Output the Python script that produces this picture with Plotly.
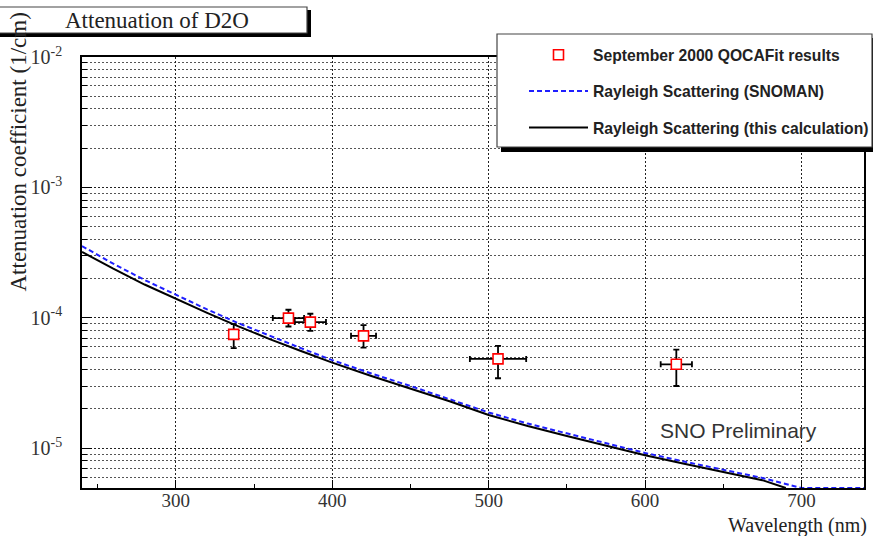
import numpy as np
import plotly.graph_objects as go

# ---- data ----
wl_points = [337, 372, 386, 420, 506, 620]
att_points = [7.47e-5, 9.95e-5, 9.27e-5, 7.27e-5, 4.84e-5, 4.40e-5]
att_err_plus = [1.48e-5, 1.58e-5, 1.47e-5, 1.53e-5, 1.25e-5, 1.30e-5]
att_err_minus = [1.62e-5, 1.37e-5, 1.33e-5, 1.37e-5, 1.40e-5, 1.40e-5]
wl_err = [0, 10, 10, 8, 18, 10]

wl_calc = [240, 260, 280, 300, 320, 340, 360, 380, 400, 425, 450, 475, 500,
           525, 550, 575, 600, 625, 650, 675, 690]
att_calc = [3.20e-4, 2.38e-4, 1.80e-4, 1.40e-4, 1.09e-4, 8.6e-5, 6.87e-5, 5.57e-5,
            4.53e-5, 3.58e-5, 2.88e-5, 2.29e-5, 1.80e-5, 1.48e-5, 1.24e-5, 1.04e-5,
            8.83e-6, 7.59e-6, 6.58e-6, 5.69e-6, 4.9e-6]

wl_snoman = [240, 260, 280, 300, 320, 340, 360, 380, 400, 425, 450, 475, 500,
             525, 550, 575, 600, 625, 650, 675, 700, 720, 740]
att_snoman = [3.55e-4, 2.60e-4, 1.95e-4, 1.50e-4, 1.16e-4, 9.1e-5, 7.25e-5, 5.85e-5,
              4.74e-5, 3.74e-5, 3.0e-5, 2.39e-5, 1.88e-5, 1.545e-5, 1.295e-5, 1.085e-5,
              9.2e-6, 7.9e-6, 6.85e-6, 5.92e-6, 4.6e-6, 4.0e-6, 3.5e-6]

x_range = [240, 740]
y_log_range = [-5.305, -2]
decades = [-5, -4, -3, -2]

ymin = 10 ** y_log_range[0]
snoman_shown = np.maximum(np.array(att_snoman), ymin)
calc_shown = np.maximum(np.array(att_calc), ymin)

W, H = 873, 536
L, R, T, B = 82, 9, 57, 48
pw, ph = W - L - R, H - T - B


def px(x):
    return (x - L) / pw


def py(y):
    return (H - B - y) / ph


fig = go.Figure()

fig.add_trace(go.Scatter(
    x=wl_points, y=att_points, mode="markers",
    name="September 2000 QOCAFit results",
    marker=dict(symbol="square", size=10, color="white",
                line=dict(color="#ff0000", width=1.6)),
    error_y=dict(type="data", array=att_err_plus, arrayminus=att_err_minus,
                 color="black", thickness=1.8, width=3),
    error_x=dict(type="data", array=wl_err, color="black", thickness=1.8, width=3),
    legendgroup="a",
))
fig.add_trace(go.Scatter(
    x=wl_snoman, y=snoman_shown, mode="lines",
    name="Rayleigh Scattering (SNOMAN)",
    line=dict(color="#1f1fff", width=2, dash="5px,3px"),
    legendgroup="b",
))
fig.add_trace(go.Scatter(
    x=wl_calc, y=calc_shown, mode="lines",
    name="Rayleigh Scattering (this calculation)",
    line=dict(color="black", width=2),
    legendgroup="c",
))

major_vals = [10.0 ** d for d in decades]
major_text = ["10<sup>%d</sup>" % d for d in decades]
minor_vals = [m * 10.0 ** d for d in range(-6, -2) for m in range(2, 10)]
minor_vals = [v for v in minor_vals if v >= ymin]

serif = "Liberation Serif, Times New Roman, serif"
sans = "Liberation Sans, Arial, sans-serif"

fig.update_layout(
    width=W, height=H,
    margin=dict(l=L, r=R, t=T, b=B, pad=0, autoexpand=False),
    paper_bgcolor="white", plot_bgcolor="white",
    showlegend=True,
    legend=dict(x=px(524), y=py(38), xanchor="left", yanchor="top",
                bgcolor="rgba(0,0,0,0)", borderwidth=0,
                font=dict(family=sans, size=15.7, color="#222", weight="bold"),
                tracegroupgap=13, itemwidth=59),
    font=dict(family=serif, color="#222"),
)

fig.update_xaxes(
    range=x_range, showline=True, linecolor="black", linewidth=1.5, mirror=True,
    tickvals=[300, 400, 500, 600, 700], ticks="inside", ticklen=8, tickwidth=1.2,
    tickcolor="black", tickfont=dict(family=serif, size=19, color="#333"),
    ticklabelstandoff=-6,
    showgrid=True, gridcolor="#222", gridwidth=1, griddash="2px,2px",
    minor=dict(tickvals=[250, 350, 450, 550, 650], ticks="inside", ticklen=4,
               tickcolor="black", showgrid=False),
    zeroline=False,
)
fig.update_yaxes(
    type="log", range=y_log_range, showline=True, linecolor="black", linewidth=1.5,
    mirror=True,
    tickvals=major_vals, ticktext=major_text, ticks="inside", ticklen=10,
    tickwidth=1.2, tickcolor="black",
    tickfont=dict(family=serif, size=20, color="#333"), ticklabelstandoff=14,
    showgrid=True, gridcolor="#222", gridwidth=1, griddash="2px,2px",
    minor=dict(tickvals=minor_vals, ticks="inside", ticklen=5, tickcolor="black",
               showgrid=True, gridcolor="#555", gridwidth=1, griddash="2px,2px"),
    zeroline=False,
)

shapes = []
# legend box with shadow
shapes.append(dict(type="rect", xref="paper", yref="paper",
                   x0=px(501), x1=px(877), y0=py(152), y1=py(38),
                   fillcolor="black", line=dict(width=0), layer="above"))
shapes.append(dict(type="rect", xref="paper", yref="paper",
                   x0=px(497), x1=px(872), y0=py(147), y1=py(34),
                   fillcolor="white", line=dict(color="#444", width=1.2), layer="above"))
# title box with shadow
shapes.append(dict(type="rect", xref="paper", yref="paper",
                   x0=px(-20), x1=px(311), y0=py(37), y1=py(10),
                   fillcolor="black", line=dict(width=0), layer="above"))
shapes.append(dict(type="rect", xref="paper", yref="paper",
                   x0=px(-20), x1=px(307), y0=py(33), y1=py(7),
                   fillcolor="white", line=dict(color="#444", width=1.2), layer="above"))
fig.update_layout(shapes=shapes)

fig.add_annotation(text="Attenuation of D2O", xref="paper", yref="paper",
                   x=px(157), y=py(21), xanchor="center", yanchor="middle",
                   showarrow=False, font=dict(family=serif, size=23, color="#222"))
fig.add_annotation(text="Attenuation coefficient (1/cm)", xref="paper", yref="paper",
                   x=px(18), y=py(11), xanchor="center", yanchor="top", textangle=-90,
                   showarrow=False, font=dict(family=serif, size=23, color="#222"))
fig.add_annotation(text="Wavelength (nm)", xref="paper", yref="paper",
                   x=px(869), y=py(525), xanchor="right", yanchor="middle",
                   showarrow=False, font=dict(family=serif, size=20, color="#222"))
fig.add_annotation(text="SNO Preliminary", xref="paper", yref="paper",
                   x=px(738), y=py(430), xanchor="center", yanchor="middle",
                   showarrow=False, font=dict(family=sans, size=21, color="#333"))

fig.write_html("out.html")
